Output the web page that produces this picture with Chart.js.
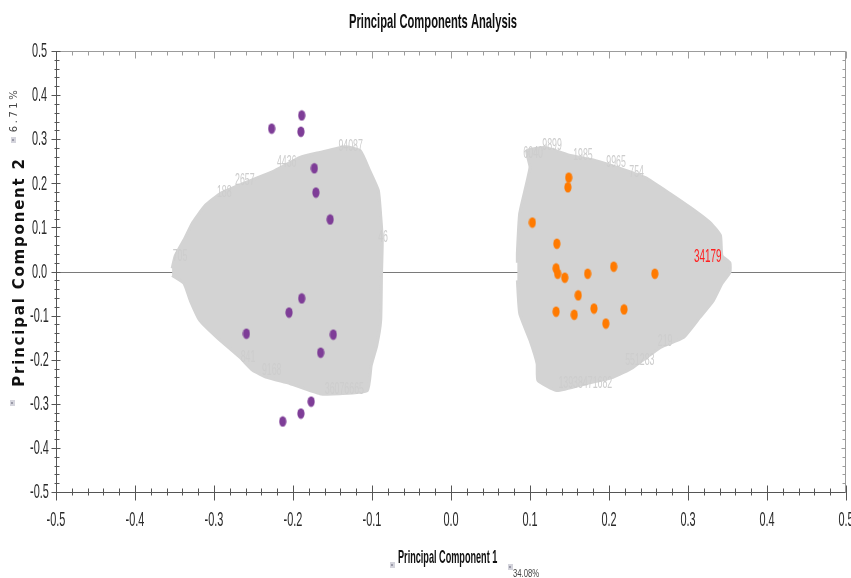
<!DOCTYPE html>
<html>
<head>
<meta charset="utf-8">
<script src="https://cdn.jsdelivr.net/npm/chart.js@4.4.0/dist/chart.umd.min.js"></script>
<style>
html, body { margin: 0; padding: 0; background: #fff; }
</style>
</head>
<body>
<canvas id="myChart" width="851" height="578"></canvas>
<script>
// PUNTOS MORADOS (GRUPO IZQUIERDO)
const moradoX = [-0.227, -0.189, -0.190, -0.173, -0.171, -0.153, -0.189, -0.205, -0.259, -0.149, -0.165, -0.177, -0.190, -0.213]
const moradoY = [0.324, 0.354, 0.317, 0.234, 0.179, 0.118, -0.061, -0.093, -0.141, -0.143, -0.184, -0.295, -0.322, -0.340]

// PUNTOS NARANJOS (GRUPO DERECHO)
const naranjoX = [0.149, 0.148, 0.103, 0.134, 0.133, 0.135, 0.144, 0.173, 0.206, 0.258, 0.161, 0.133, 0.156, 0.181, 0.219, 0.196]
const naranjoY = [0.213, 0.191, 0.111, 0.063, 0.007, -0.005, -0.014, -0.005, 0.011, -0.005, -0.054, -0.091, -0.098, -0.084, -0.086, -0.118]

// CONTORNO DE LA NUBE GRIS IZQUIERDA
const nubeIzqX = [-0.353, -0.349, -0.337, -0.327, -0.311, -0.292, -0.254, -0.223, -0.191, -0.166, -0.134, -0.115, -0.103, -0.092, -0.089, -0.087, -0.088, -0.089, -0.094, -0.101, -0.106, -0.141, -0.166, -0.204, -0.233, -0.251, -0.267, -0.296, -0.318, -0.330, -0.338, -0.353]
const nubeIzqY = [0.007, 0.036, 0.075, 0.111, 0.150, 0.177, 0.206, 0.229, 0.259, 0.270, 0.283, 0.274, 0.229, 0.184, 0.127, 0.070, -0.009, -0.111, -0.168, -0.213, -0.270, -0.277, -0.277, -0.254, -0.240, -0.224, -0.195, -0.150, -0.111, -0.066, -0.027, -0.009]

// CONTORNO DE LA NUBE GRIS DERECHA
const nubeDerX = [0.084, 0.084, 0.087, 0.100, 0.096, 0.119, 0.151, 0.182, 0.214, 0.246, 0.277, 0.303, 0.328, 0.341, 0.343, 0.353, 0.353, 0.343, 0.332, 0.315, 0.294, 0.265, 0.230, 0.205, 0.172, 0.134, 0.110, 0.109, 0.100, 0.087, 0.084]
const nubeDerY = [0.020, 0.041, 0.132, 0.236, 0.274, 0.281, 0.263, 0.252, 0.234, 0.213, 0.177, 0.145, 0.111, 0.082, 0.036, 0.020, -0.002, -0.027, -0.066, -0.104, -0.150, -0.172, -0.218, -0.240, -0.254, -0.270, -0.247, -0.209, -0.156, -0.095, -0.020]

// ETIQUETAS GRISES QUE SOBRESALEN DE LAS NUBES
const etiquetasNube = ["94087", "4436", "2657", "188", "705", "46", "36076665", "841", "9168", "6040", "9899", "1985", "9965", "754", "13938471682", "551283", "219"]
const etiquetasX = [-0.127, -0.208, -0.261, -0.287, -0.343, -0.086, -0.135, -0.257, -0.227, 0.104, 0.128, 0.167, 0.209, 0.235, 0.170, 0.239, 0.271]
const etiquetasY = [0.283, 0.247, 0.206, 0.179, 0.034, 0.077, -0.268, -0.195, -0.224, 0.268, 0.286, 0.263, 0.247, 0.224, -0.254, -0.202, -0.159]

// ETIQUETA ROJA
const etiquetaRoja = "34179"
const rojaX = 0.325
const rojaY = 0.032

// ETIQUETAS DE LOS EJES
const ticksX = ["-0.5", "-0.4", "-0.3", "-0.2", "-0.1", "0.0", "0.1", "0.2", "0.3", "0.4", "0.5"]
const ticksY = ["0.5", "0.4", "0.3", "0.2", "0.1", "0.0", "-0.1", "-0.2", "-0.3", "-0.4", "-0.5"]

const titulo = "Principal Components Analysis"
const tituloX = "Principal Component 1"
const porcentajeX = "34.08%"
const tituloY = "Principal Component 2"
const porcentajeY = "6.71%"

const miGraf = document.querySelector("#myChart")

function aPuntos(xs, ys) {
    return xs.map((v, i) => ({ x: v, y: ys[i] }))
}

// PUNTO ELIPTICO (MAS ALTO QUE ANCHO)
function elipse(color) {
    const c = document.createElement("canvas")
    c.width = 8
    c.height = 12
    const g = c.getContext("2d")
    g.fillStyle = color
    g.beginPath()
    g.ellipse(4, 6, 3.6, 5.3, 0, 0, Math.PI * 2)
    g.fill()
    return c
}

function texto(ctx, str, x, y, font, color, sx, align, base) {
    ctx.save()
    ctx.translate(x, y)
    ctx.scale(sx, 1)
    ctx.font = font
    ctx.fillStyle = color
    ctx.textAlign = align
    ctx.textBaseline = base
    ctx.fillText(str, 0, 0)
    ctx.restore()
}

function icono(ctx, x, y) {
    ctx.save()
    ctx.fillStyle = "#d4d4dc"
    ctx.fillRect(x - 2, y - 3, 5, 6)
    ctx.fillStyle = "#9a9aa8"
    ctx.fillRect(x - 1, y - 1, 2, 2)
    ctx.restore()
}

// LINEA CERO (DEBAJO DE LAS NUBES)
const lineaCero = {
    id: "lineaCero",
    beforeDatasetsDraw(chart) {
        const { ctx, chartArea: a, scales: { y } } = chart
        const py = Math.round(y.getPixelForValue(0)) + 0.5
        ctx.save()
        ctx.strokeStyle = "#7a7a7a"
        ctx.lineWidth = 1
        ctx.beginPath()
        ctx.moveTo(a.left, py)
        ctx.lineTo(a.right, py)
        ctx.stroke()
        ctx.restore()
    }
}

// EJES, TICKS Y TEXTOS
const decorado = {
    id: "decorado",
    afterDatasetsDraw(chart) {
        const { ctx, chartArea: a, scales: { x, y } } = chart

        // ETIQUETAS GRISES
        etiquetasNube.forEach((t, i) => {
            texto(ctx, t, x.getPixelForValue(etiquetasX[i]), y.getPixelForValue(etiquetasY[i]), "16px 'Liberation Sans', Arial, sans-serif", "#cdcdcd", 0.55, "center", "middle")
        })
        texto(ctx, etiquetaRoja, x.getPixelForValue(rojaX), y.getPixelForValue(rojaY), "18px 'Liberation Sans', Arial, sans-serif", "#ff1f1f", 0.55, "center", "middle")

        const L = a.left + 0.5
        const B = Math.round(a.bottom) + 0.5
        const T = Math.round(a.top) + 0.5
        const R = Math.round(a.right) - 0.5

        ctx.save()
        ctx.lineWidth = 1
        // BORDE SUPERIOR Y DERECHO
        ctx.strokeStyle = "#9c9c9c"
        ctx.beginPath()
        ctx.moveTo(L, T); ctx.lineTo(R, T); ctx.lineTo(R, B)
        ctx.stroke()
        for (let i = -25; i <= 25; i++) {
            const v = i / 50
            const mayor = i % 5 === 0
            const px = Math.round(x.getPixelForValue(v)) + 0.5
            const py = Math.round(y.getPixelForValue(v)) + 0.5
            ctx.beginPath()
            ctx.moveTo(px, T); ctx.lineTo(px, T + (mayor ? 7 : 4))
            ctx.moveTo(R, py); ctx.lineTo(R - (mayor ? 4 : 3), py)
            ctx.stroke()
        }
        // EJE IZQUIERDO E INFERIOR
        ctx.strokeStyle = "#555"
        ctx.beginPath()
        ctx.moveTo(L, T); ctx.lineTo(L, B); ctx.lineTo(R, B)
        ctx.stroke()
        for (let i = -25; i <= 25; i++) {
            const v = i / 50
            const mayor = i % 5 === 0
            const px = Math.round(x.getPixelForValue(v)) + 0.5
            const py = Math.round(y.getPixelForValue(v)) + 0.5
            ctx.beginPath()
            if (mayor) {
                ctx.moveTo(px, B - 7); ctx.lineTo(px, B + 8)
                ctx.moveTo(L - 5, py); ctx.lineTo(L + 4, py)
            } else {
                ctx.moveTo(px, B - 4); ctx.lineTo(px, B + 3)
                ctx.moveTo(L - 2, py); ctx.lineTo(L + 3, py)
            }
            ctx.stroke()
        }
        ctx.restore()

        // NUMEROS DE LOS EJES
        const fuenteTick = "21px 'Liberation Sans', Arial, sans-serif"
        ticksX.forEach(t => {
            texto(ctx, t, x.getPixelForValue(parseFloat(t)), 520, fuenteTick, "#2a2a2a", 0.52, "center", "middle")
        })
        ticksY.forEach(t => {
            texto(ctx, t, 39.5, y.getPixelForValue(parseFloat(t)) + 0.5, fuenteTick, "#2a2a2a", 0.52, "center", "middle")
        })
    },
    afterDraw(chart) {
        const { ctx } = chart
        // TITULO PRINCIPAL
        texto(ctx, titulo, 433, 28, "bold 21px 'Liberation Sans', Arial, sans-serif", "#111", 0.533, "center", "alphabetic")
        // TITULO EJE X
        texto(ctx, tituloX, 398, 563, "bold 19px 'Liberation Sans', Arial, sans-serif", "#111", 0.48, "left", "alphabetic")
        texto(ctx, porcentajeX, 513, 577, "11px 'Liberation Sans', Arial, sans-serif", "#444", 0.7, "left", "alphabetic")
        icono(ctx, 392, 565)
        icono(ctx, 510, 567)

        // TITULO EJE Y (ROTADO)
        ctx.save()
        ctx.translate(24, 272)
        ctx.rotate(-Math.PI / 2)
        ctx.font = "bold 15px 'DejaVu Sans', Verdana, sans-serif"
        ctx.letterSpacing = "1.8px"
        ctx.fillStyle = "#111"
        ctx.textAlign = "center"
        ctx.textBaseline = "alphabetic"
        ctx.fillText(tituloY, 0, 0)
        ctx.restore()

        ctx.save()
        ctx.translate(17, 110)
        ctx.rotate(-Math.PI / 2)
        ctx.font = "10px 'DejaVu Sans', Verdana, sans-serif"
        ctx.letterSpacing = "2.5px"
        ctx.fillStyle = "#444"
        ctx.textAlign = "center"
        ctx.textBaseline = "alphabetic"
        ctx.fillText(porcentajeY, 0, 0)
        ctx.restore()
        icono(ctx, 13, 140)
        icono(ctx, 12, 403)
    }
}

const datasets = [
    {
        label: "grupo morado",
        data: aPuntos(moradoX, moradoY),
        pointStyle: elipse("#7e3d97"),
        order: 0
    },
    {
        label: "grupo naranjo",
        data: aPuntos(naranjoX, naranjoY),
        pointStyle: elipse("#ff7a00"),
        order: 0
    },
    {
        label: "nube izquierda",
        data: aPuntos(nubeIzqX, nubeIzqY),
        showLine: true,
        fill: "shape",
        tension: 0.15,
        pointRadius: 0,
        borderWidth: 3,
        borderColor: "#d3d3d3",
        backgroundColor: "#d3d3d3",
        order: 1
    },
    {
        label: "nube derecha",
        data: aPuntos(nubeDerX, nubeDerY),
        showLine: true,
        fill: "shape",
        tension: 0.15,
        pointRadius: 0,
        borderWidth: 3,
        borderColor: "#d3d3d3",
        backgroundColor: "#d3d3d3",
        order: 1
    }
]

const config = {
    type: "scatter",
    data: { datasets },
    options: {
        responsive: false,
        animation: false,
        devicePixelRatio: 1,
        layout: { padding: { top: 51, right: 5, left: 0, bottom: 0 } },
        plugins: {
            legend: { display: false },
            title: { display: false },
            tooltip: { enabled: false }
        },
        scales: {
            x: {
                type: "linear",
                min: -0.5,
                max: 0.5,
                grid: { display: false, drawTicks: false, tickLength: 0 },
                border: { display: false },
                ticks: { display: false, stepSize: 0.1 },
                afterFit: s => { s.height = 86 }
            },
            y: {
                type: "linear",
                min: -0.5,
                max: 0.5,
                grid: { display: false, drawTicks: false, tickLength: 0 },
                border: { display: false },
                ticks: { display: false, stepSize: 0.1 },
                afterFit: s => { s.width = 56 }
            }
        }
    },
    plugins: [lineaCero, decorado]
}

const myChart = new Chart(miGraf, config)
</script>
</body>
</html>
